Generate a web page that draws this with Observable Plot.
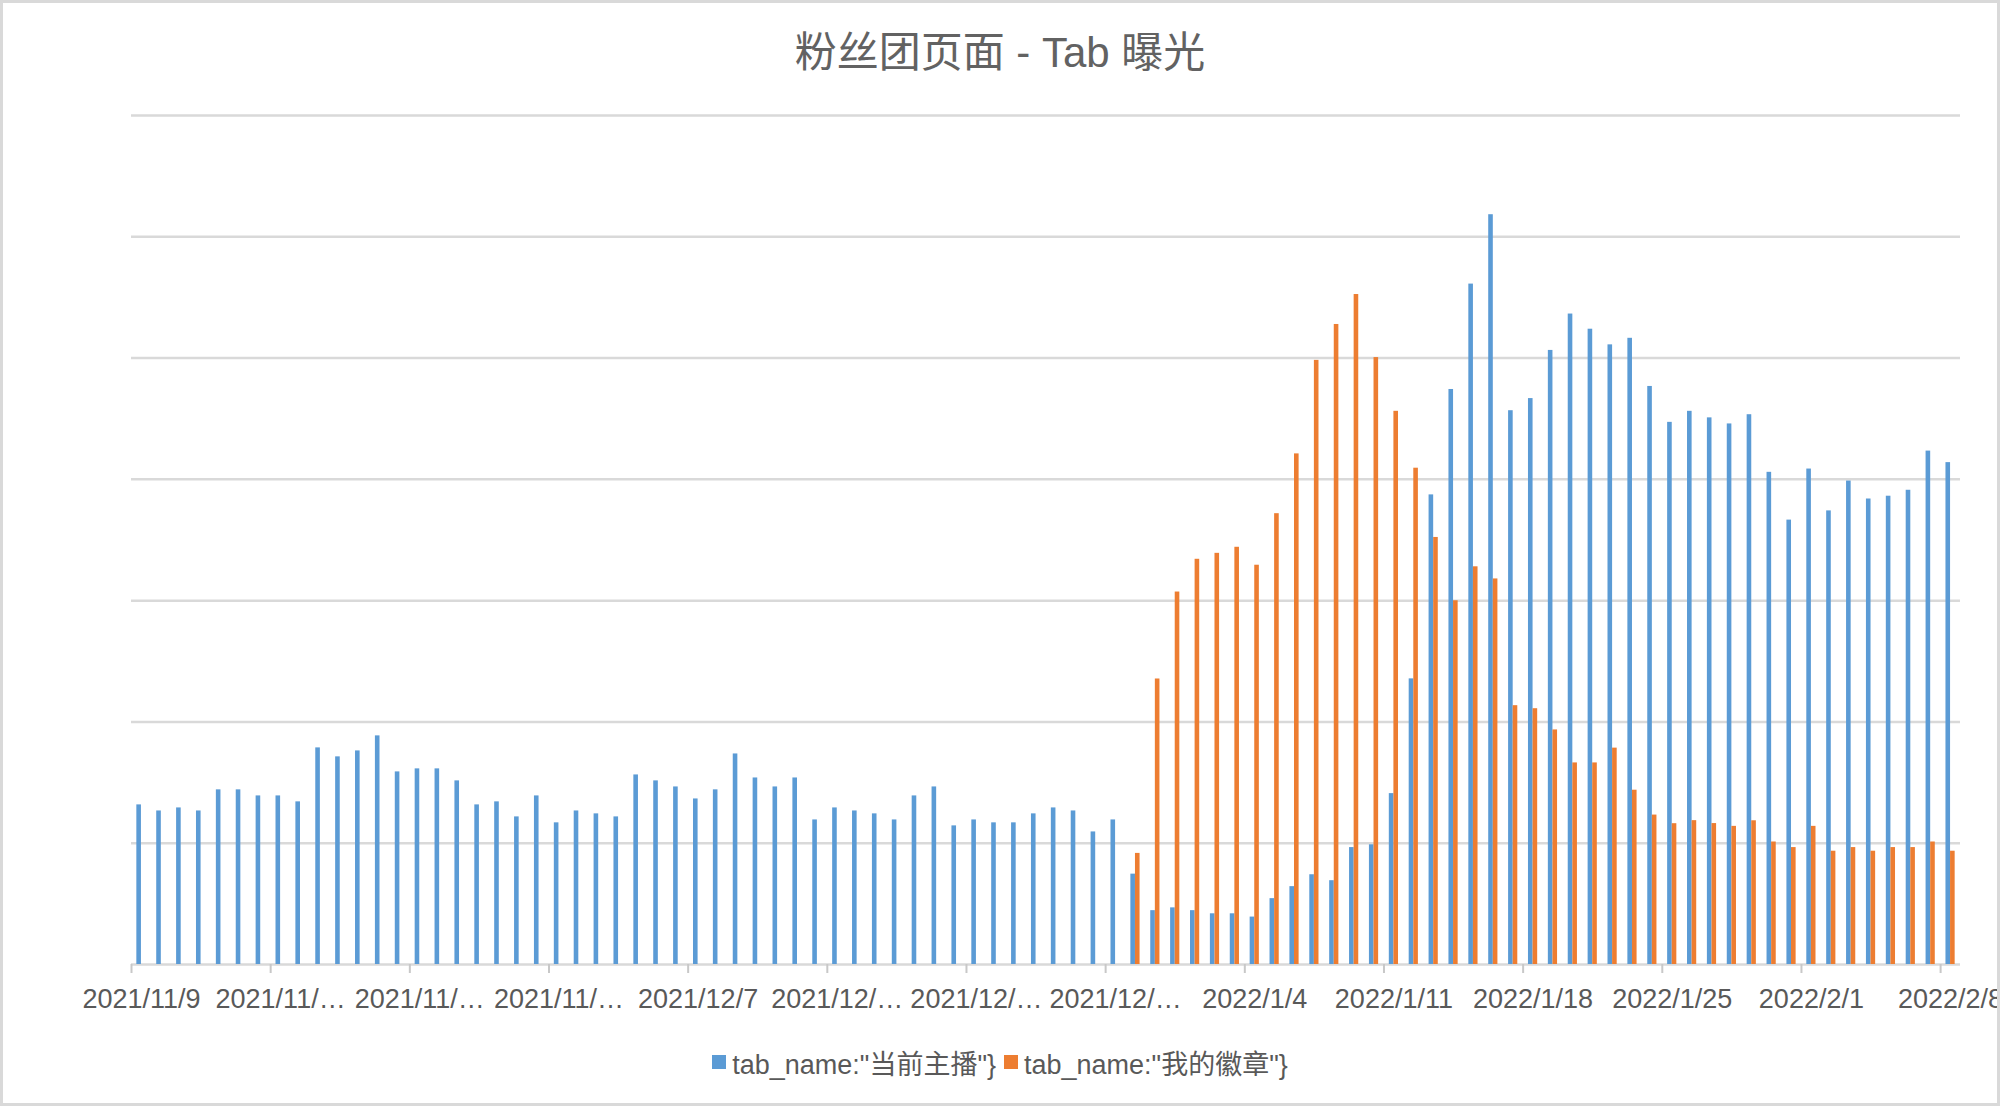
<!DOCTYPE html>
<html>
<head>
<meta charset="utf-8">
<script src="https://cdn.jsdelivr.net/npm/d3@7"></script>
<script src="https://cdn.jsdelivr.net/npm/@observablehq/plot@0.6"></script>
<style>
  html, body { margin: 0; padding: 0; background: #fff; }
  #wrap { position: relative; width: 2000px; height: 1106px; overflow: hidden; background: #fff;
          font-family: "Liberation Sans", "Noto Sans CJK SC", sans-serif; color: #595959; }
  #title { position: absolute; left: 0; top: 28px; width: 2000px; height: 50px; line-height: 50px;
           text-align: center; font-size: 42px; color: #626262; }
  #chart { position: absolute; left: 0; top: 0; }
  #legend { position: absolute; left: 0; top: 1045px; width: 2000px; height: 34px;
            display: flex; justify-content: center; align-items: center; font-size: 27px; color: #595959; }
  .item { display: flex; align-items: center; margin: 0 4px; }
  .sw { width: 14px; height: 14px; margin-right: 6px; }
  #frame { position: absolute; left: 0; top: 0; width: 2000px; height: 1106px; box-sizing: border-box;
           border: 3px solid #d9d9d9; pointer-events: none; }
</style>
</head>
<body>
<div id="wrap">
  <div id="chart"></div>
  <div id="title"></div>
  <div id="legend"></div>
  <div id="frame"></div>
</div>
<script>
const titleText = "粉丝团页面 - Tab 曝光";
const seriesNames = ['tab_name:"当前主播"}', 'tab_name:"我的徽章"}'];
const seriesColors = ["#5b9bd5", "#ed7d31"];

const dates = [
  "2021/11/9","2021/11/10","2021/11/11","2021/11/12","2021/11/13","2021/11/14","2021/11/15","2021/11/16",
  "2021/11/17","2021/11/18","2021/11/19","2021/11/20","2021/11/21","2021/11/22","2021/11/23","2021/11/24",
  "2021/11/25","2021/11/26","2021/11/27","2021/11/28","2021/11/29","2021/11/30",
  "2021/12/1","2021/12/2","2021/12/3","2021/12/4","2021/12/5","2021/12/6","2021/12/7","2021/12/8",
  "2021/12/9","2021/12/10","2021/12/11","2021/12/12","2021/12/13","2021/12/14","2021/12/15","2021/12/16",
  "2021/12/17","2021/12/18","2021/12/19","2021/12/20","2021/12/21","2021/12/22","2021/12/23","2021/12/24",
  "2021/12/25","2021/12/26","2021/12/27","2021/12/28","2021/12/29","2021/12/30","2021/12/31",
  "2022/1/1","2022/1/2","2022/1/3","2022/1/4","2022/1/5","2022/1/6","2022/1/7","2022/1/8",
  "2022/1/9","2022/1/10","2022/1/11","2022/1/12","2022/1/13","2022/1/14","2022/1/15","2022/1/16",
  "2022/1/17","2022/1/18","2022/1/19","2022/1/20","2022/1/21","2022/1/22","2022/1/23","2022/1/24",
  "2022/1/25","2022/1/26","2022/1/27","2022/1/28","2022/1/29","2022/1/30","2022/1/31",
  "2022/2/1","2022/2/2","2022/2/3","2022/2/4","2022/2/5","2022/2/6","2022/2/7","2022/2/8"
];

const currentAnchor = [
  1316,1266,1291,1266,1440,1440,1390,1390,1341,1786,
  1712,1761,1885,1588,1613,1613,1514,1316,1341,1217,
  1390,1168,1266,1242,1217,1563,1514,1464,1365,1440,
  1736,1538,1464,1538,1192,1291,1266,1242,1192,1390,
  1464,1143,1192,1168,1168,1242,1291,1266,1093,1192,
  745,444,467,444,418,418,391,543,642,740,
  691,964,987,1409,2355,3872,4741,5610,6182,4566,
  4666,5063,5363,5238,5109,5163,4766,4470,4561,4507,
  4457,4533,4058,3664,4085,3740,3986,3838,3861,3910,
  4233,4138
];

const myBadge = [
  0,0,0,0,0,0,0,0,0,0,
  0,0,0,0,0,0,0,0,0,0,
  0,0,0,0,0,0,0,0,0,0,
  0,0,0,0,0,0,0,0,0,0,
  0,0,0,0,0,0,0,0,0,0,
  916,2354,3071,3341,3390,3440,3292,3717,4210,4981,
  5277,5524,5004,4561,4092,3521,2999,3279,3179,2134,
  2109,1934,1662,1662,1784,1437,1232,1161,1186,1162,
  1139,1185,1010,964,1139,934,964,934,964,964,
  1010,934
];

const tickDates = ["2021/11/9","2021/11/16","2021/11/23","2021/11/30","2021/12/7","2021/12/14","2021/12/21",
  "2021/12/28","2022/1/4","2022/1/11","2022/1/18","2022/1/25","2022/2/1","2022/2/8"];
const gridValues = [0, 1000, 2000, 3000, 4000, 5000, 6000, 7000];

const blueRows = dates.map((d, i) => ({date: d, value: currentAnchor[i]}));
const orangeRows = dates.map((d, i) => ({date: d, value: myBadge[i]})).filter(r => r.value > 0);

const W = 2000, H = 1030, mL = 131, mR = 40, mT = 115, mB = 66;
const step = (W - mL - mR) / dates.length;
const bw = 4.6;

const chart = Plot.plot({
  width: W, height: H,
  marginLeft: mL, marginRight: mR, marginTop: mT, marginBottom: mB,
  style: {fontFamily: '"Liberation Sans", "Noto Sans CJK SC", sans-serif', fontSize: "27px", color: "#595959", background: "transparent"},
  x: {type: "band", domain: dates, padding: 0, label: null},
  y: {domain: [0, 7000], axis: null, label: null},
  marks: [
    Plot.ruleY(gridValues, {stroke: "#d9d9d9", strokeWidth: 2.5}),
    Plot.barY(blueRows, {x: "date", y: "value", fill: seriesColors[0], insetLeft: step / 2 - bw, insetRight: step / 2}),
    Plot.barY(orangeRows, {x: "date", y: "value", fill: seriesColors[1], insetLeft: step / 2, insetRight: step / 2 - bw}),
    Plot.axisX({ticks: tickDates, tickSize: 9, text: null, label: null, dx: -step / 2, stroke: "#c8c8c8", strokeWidth: 2}),
    Plot.axisX({ticks: tickDates, tickSize: 0, tickPadding: 24, fontSize: 27, fill: "#595959", label: null,
      tickFormat: d => d.length > 9 ? d.slice(0, 8) + "…" : d})
  ]
});
document.getElementById("chart").appendChild(chart);

document.getElementById("title").textContent = titleText;
const legend = document.getElementById("legend");
seriesNames.forEach((name, i) => {
  const item = document.createElement("div");
  item.className = "item";
  const sw = document.createElement("div");
  sw.className = "sw";
  sw.style.background = seriesColors[i];
  const label = document.createElement("span");
  label.textContent = name;
  item.appendChild(sw);
  item.appendChild(label);
  legend.appendChild(item);
});
</script>
</body>
</html>
